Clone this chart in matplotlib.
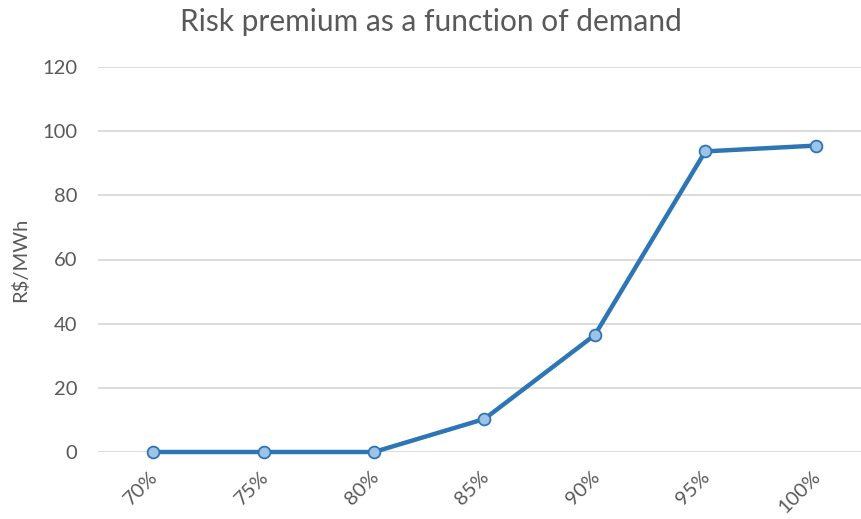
import matplotlib
matplotlib.use("Agg")
import matplotlib.pyplot as plt
from matplotlib.transforms import ScaledTranslation

categories = ["70%", "75%", "80%", "85%", "90%", "95%", "100%"]
premium = [0, 0, 0, 10.3, 36.5, 93.7, 95.5]
y_ticks = [0, 20, 40, 60, 80, 100, 120]

plt.rcParams["font.family"] = ["Lato", "DejaVu Sans"]

fig = plt.figure(figsize=(8.61, 5.19), dpi=100)
ax = fig.add_axes([98 / 861, 1 - 452 / 519, 1 - 98 / 861, (452 - 67) / 519])

x = list(range(len(categories)))
ax.plot(x, premium, color="#2E75B6", lw=3.2, marker="o", ms=8.5,
        mfc="#9DC3E6", mec="#2E75B6", mew=1.3, clip_on=False, zorder=3,
        solid_joinstyle="round")

ax.set_xlim(-0.5, 6.41)
ax.set_ylim(0, 120)
ax.set_yticks(y_ticks)
ax.set_xticks(x)
ax.set_xticklabels(categories, rotation=45, ha="right", rotation_mode="anchor")
ax.grid(axis="y", color="#D9D9D9", lw=1.3)
ax.set_axisbelow(True)
for s in ax.spines.values():
    s.set_visible(False)
ax.tick_params(length=0, colors="#595959", labelsize=14.5)
ax.tick_params(axis="x", labelsize=14.5, pad=11.5)
ax.tick_params(axis="y", pad=15)
shift = ScaledTranslation(-3 / 72, 0, fig.dpi_scale_trans)
for lbl in ax.get_xticklabels():
    lbl.set_transform(lbl.get_transform() + shift)

ax.set_ylabel("R$/MWh", color="#595959", fontsize=14.5, labelpad=9)
fig.text(0.5, 0.958, "Risk premium as a function of demand", ha="center", va="center",
         fontsize=21.5, color="#595959")

fig.savefig("out.png", dpi=100)
